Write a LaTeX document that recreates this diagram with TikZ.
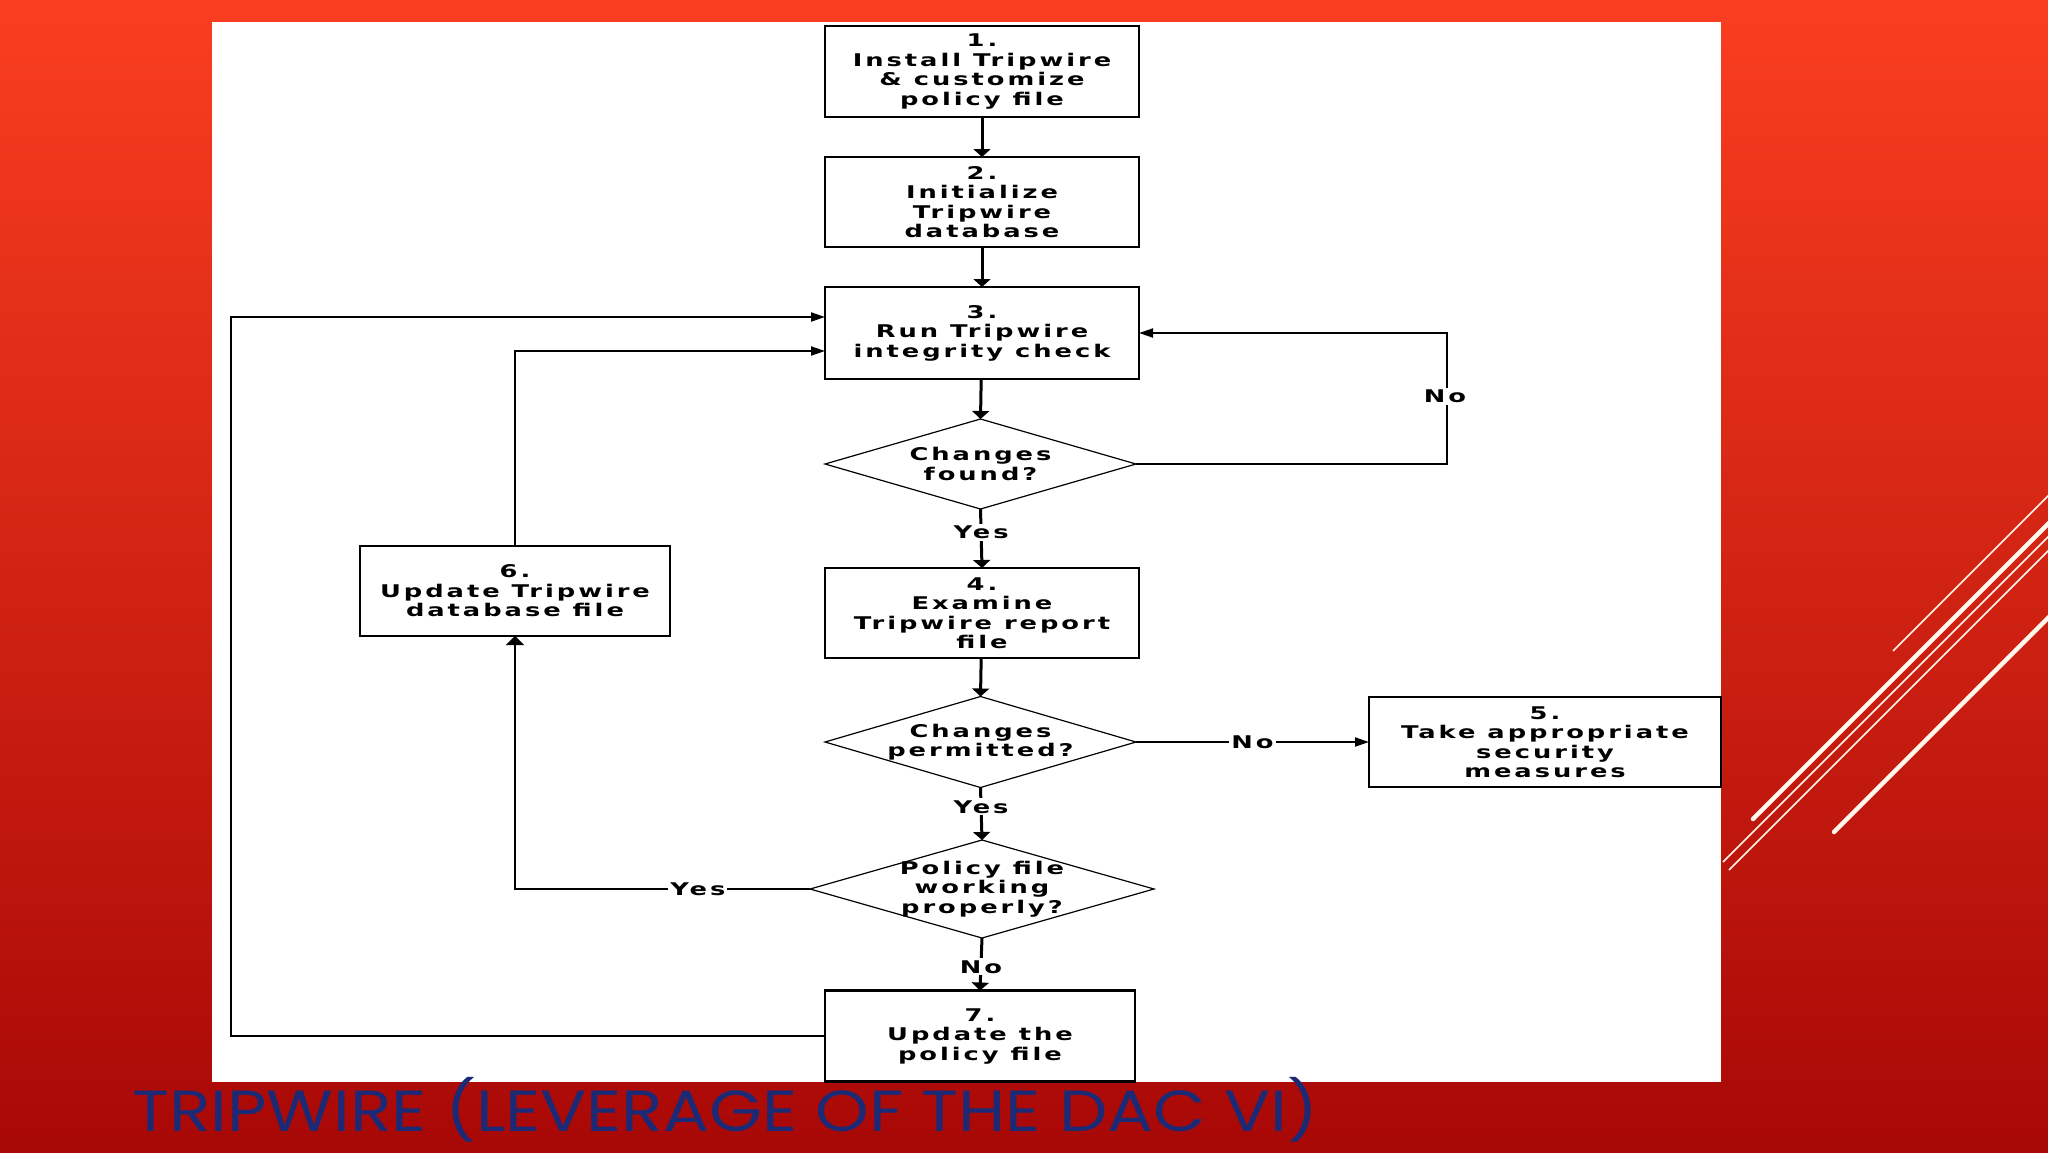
\documentclass[tikz,border=0pt]{standalone}
\usepackage{fontspec}
\usepackage{graphicx}
\usetikzlibrary{shapes.geometric,arrows.meta,calc}
\newfontfamily\pixfont[FakeStretch=1.47,LetterSpace=17]{DejaVu Sans Bold}
\newfontfamily\titlefont{Poppins}
\definecolor{bgtop}{RGB}{250,62,32}
\definecolor{bgbot}{RGB}{168,8,6}
\definecolor{titleblue}{RGB}{28,42,118}
\definecolor{streak}{RGB}{255,246,236}
\begin{document}
\begin{tikzpicture}[x=1pt,y=-1pt,
  txt/.style={font=\pixfont\fontsize{17.5}{19.5}\selectfont, align=center, inner sep=0pt, text=black},
  box/.style={txt, rectangle, draw=black, line width=2.5pt, fill=white, outer sep=0pt},
  dia/.style={shape=diamond, draw=black, line width=1.2pt, inner sep=0pt, outer sep=0pt},
  lbl/.style={txt, fill=white, inner sep=2pt},
  vconn/.style={draw=black, line width=3pt, -{Triangle[length=8pt,width=17pt]}},
  hconn/.style={draw=black, line width=2pt, -{Triangle[length=14pt,width=9pt]}},
  uconn/.style={draw=black, line width=2.5pt, -{Triangle[length=9pt,width=18pt]}},
  streakthin/.style={draw=streak, line width=1.6pt},
  streakthick/.style={draw=streak, line width=4.5pt, line cap=round}]
\useasboundingbox (0,0) rectangle (2048,1152);
\shade[top color=bgtop, bottom color=bgbot] (0,0) rectangle (2048,1152);
% decorative streaks
\begin{scope}
\clip (0,0) rectangle (2048,1152);
\draw[streakthin] (1893,651) -- (2060,484);
\draw[streakthick] (1753,819) -- (2060,512);
\draw[streakthin] (1723,862) -- (2060,525);
\draw[streakthin] (1729,870) -- (2060,539);
\draw[streakthick] (1834,832) -- (2060,606);
\end{scope}
% white panel
\fill[white] (212,22) rectangle (1721,1082);
% title
\node[anchor=base west, inner sep=0pt, text=titleblue] (title) at (132,1131)
  {\resizebox{1186pt}{\height}{\titlefont\fontsize{58}{68}\selectfont TRIPWIRE (LEVERAGE OF THE DAC VI)}};
% nodes
\node[box, minimum width=314pt, minimum height=91pt] (b1) at (982,71.5) {1.\\Install Tripwire\\\& customize\\policy file};
\node[box, minimum width=314pt, minimum height=90pt] (b2) at (982,202) {2.\\Initialize\\Tripwire\\database};
\node[box, minimum width=314pt, minimum height=92pt] (b3) at (982,333) {3.\\Run Tripwire\\integrity check};
\node[dia, minimum width=311pt, minimum height=90pt] (d1) at (980.5,464) {};
\node[txt] (d1t) at (d1) {Changes\\found?};
\node[box, minimum width=314pt, minimum height=90pt] (b4) at (982,613) {4.\\Examine\\Tripwire report\\file};
\node[dia, minimum width=311pt, minimum height=91pt] (d2) at (980.5,742) {};
\node[txt] (d2t) at (d2) {Changes\\permitted?};
\node[box, minimum width=352pt, minimum height=90pt] (b5) at (1545,742) {5.\\Take appropriate\\security\\measures};
\node[dia, minimum width=344pt, minimum height=98pt] (d3) at (982,889) {};
\node[txt] (d3t) at (d3) {Policy file\\working\\properly?};
\node[box, minimum width=310pt, minimum height=90pt] (b6) at (515,591) {6.\\Update Tripwire\\database file};
\node[box, minimum width=310pt, minimum height=91pt] (b7) at (980,1036) {7.\\Update the\\policy file};
% helper coordinates
\coordinate (rl) at (1447,400);
\coordinate (ol) at (231,700);
\coordinate (b3lo) at ($(b3.west)+(0,18)$);
\coordinate (b3hi) at ($(b3.west)+(0,-16)$);
% connectors
\draw[vconn] (b1) -- (b2);
\draw[vconn] (b2) -- (b3);
\draw[vconn] (b3) -- (d1.north);
\draw[vconn] (d1.south) -- node[lbl, pos=0.4] {Yes} (b4.north);
\draw[vconn] (b4) -- (d2.north);
\draw[hconn] (d2.east) -- node[lbl] {No} (b5.west);
\draw[vconn] (d2.south) -- node[lbl, pos=0.37] {Yes} (d3.north);
\draw[vconn] (d3.south) -- node[lbl, pos=0.55] {No} (b7.north);
\draw[uconn] (d3.west) -| node[lbl, pos=0.19] {Yes} (b6.south);
\draw[hconn] (b6.north) |- (b3lo);
\draw[hconn] (b7.west) -| (ol) |- (b3hi);
\draw[hconn] (d1.east) -| (rl) |- (b3.east);
\node[lbl] (nolbl) at (1445,396) {No};
\end{tikzpicture}
\end{document}
